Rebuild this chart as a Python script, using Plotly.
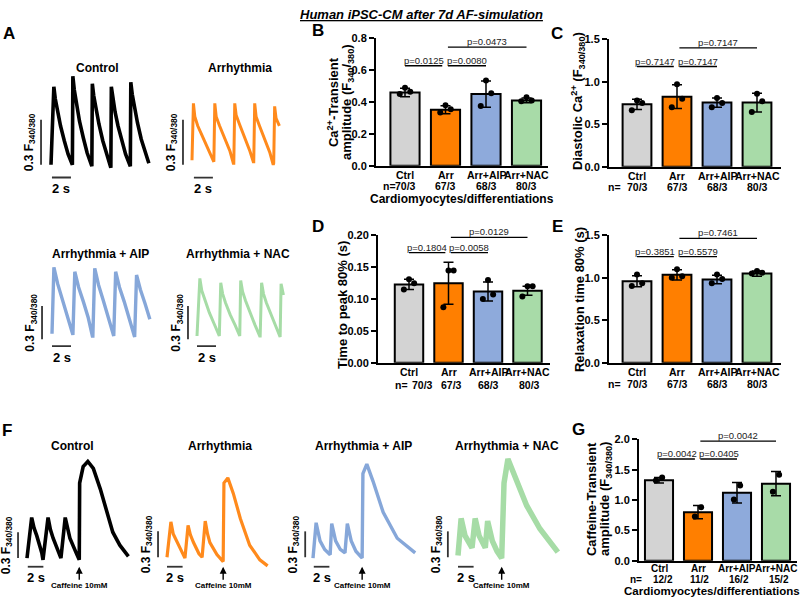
import plotly.graph_objects as go

W, H = 800, 607
FONT = "Liberation Sans, Arial, Helvetica, sans-serif"

# ======================= DATA =======================
groups = ["Ctrl", "Arr", "Arr+AIP", "Arr+NAC"]
bracket_pairs = [(0, 1), (1, 2), (1, 3)]

# B: Ca2+-transient amplitude
amp_mean = [0.46, 0.352, 0.45, 0.41]
amp_sd = [0.027, 0.025, 0.082, 0.015]
amp_dots = [[0.49, 0.465, 0.45], [0.38, 0.355, 0.335], [0.535, 0.455, 0.375], [0.43, 0.41, 0.405]]
amp_n = ["70/3", "67/3", "68/3", "80/3"]
amp_p = ["p=0.0125", "p=0.0080", "p=0.0473"]
amp_bracket_y = [0.628, 0.628, 0.745]
amp_ticks = [0.0, 0.2, 0.4, 0.6, 0.8]

# C: diastolic Ca2+
dia_mean = [0.735, 0.825, 0.755, 0.755]
dia_sd = [0.06, 0.14, 0.055, 0.11]
dia_dots = [[0.78, 0.75, 0.665], [0.97, 0.80, 0.70], [0.81, 0.75, 0.70], [0.86, 0.77, 0.645]]
dia_n = ["70/3", "67/3", "68/3", "80/3"]
dia_p = ["p=0.7147", "p=0.7147", "p=0.7147"]
dia_bracket_y = [1.18, 1.18, 1.40]
dia_ticks = [0.0, 0.5, 1.0, 1.5]

# D: time to peak 80%
ttp_mean = [0.123, 0.125, 0.112, 0.113]
ttp_sd = [0.008, 0.033, 0.015, 0.007]
ttp_dots = [[0.131, 0.125, 0.115], [0.145, 0.145, 0.087], [0.13, 0.107, 0.10], [0.12, 0.12, 0.104]]
ttp_n = ["70/3", "67/3", "68/3", "80/3"]
ttp_p = ["p=0.1804", "p=0.0058", "p=0.0129"]
ttp_bracket_y = [0.173, 0.173, 0.197]
ttp_ticks = [0.00, 0.05, 0.10, 0.15, 0.20]

# E: relaxation time 80%
rt_mean = [0.96, 1.035, 0.98, 1.05]
rt_sd = [0.065, 0.06, 0.05, 0.03]
rt_dots = [[1.04, 0.935, 0.905], [1.10, 1.02, 1.0], [1.04, 0.985, 0.935], [1.08, 1.06, 1.05]]
rt_n = ["70/3", "67/3", "68/3", "80/3"]
rt_p = ["p=0.3851", "p=0.5579", "p=0.7461"]
rt_bracket_y = [1.25, 1.25, 1.465]
rt_ticks = [0.0, 0.5, 1.0, 1.5]

# G: caffeine-transient amplitude
caf_mean = [1.325, 0.80, 1.12, 1.27]
caf_sd = [0.045, 0.11, 0.17, 0.2]
caf_dots = [[1.37, 1.32], [0.88, 0.73], [1.24, 1.01], [1.415, 1.135]]
caf_n = ["12/2", "11/2", "16/2", "15/2"]
caf_p = ["p=0.0042", "p=0.0405", "p=0.0042"]
caf_bracket_y = [1.675, 1.675, 1.97]
caf_ticks = [0.0, 0.5, 1.0, 1.5, 2.0]

# A: representative Ca2+ transients (time in s, F340/380 above baseline)
a_ctrl_t = [0.0, 0.3, 0.45, 0.7, 1.0, 1.4, 1.8, 2.25,
            2.3, 2.45, 2.7, 3.0, 3.4, 3.8, 4.3,
            4.35, 4.5, 4.75, 5.05, 5.45, 5.85, 6.3,
            6.35, 6.5, 6.75, 7.05, 7.45, 7.85, 8.35,
            8.4, 8.55, 8.8, 9.1, 9.5, 9.9, 10.3]
a_ctrl_F = [0.02, 0.54, 0.46, 0.37, 0.28, 0.18, 0.09, 0.02,
            0.61, 0.52, 0.41, 0.31, 0.20, 0.10, 0.01,
            0.56, 0.48, 0.38, 0.29, 0.18, 0.09, 0.00,
            0.54, 0.46, 0.37, 0.28, 0.18, 0.09, 0.01,
            0.57, 0.49, 0.39, 0.30, 0.19, 0.10, 0.03]
a_arr_t = [0.0, 0.15, 0.3, 0.6, 1.1, 1.7, 2.25,
           2.3, 2.4, 2.55, 2.9, 3.4, 4.0, 4.35,
           4.4, 4.5, 4.65, 5.0, 5.5, 6.1, 6.45,
           6.5, 6.6, 6.75, 7.1, 7.6, 8.2, 8.55,
           8.6, 8.7, 8.85, 9.2]
a_arr_F = [0.03, 0.41, 0.32, 0.26, 0.19, 0.10, 0.02,
           0.02, 0.41, 0.32, 0.26, 0.18, 0.09, 0.01,
           0.01, 0.41, 0.33, 0.27, 0.19, 0.09, 0.02,
           0.02, 0.41, 0.32, 0.26, 0.18, 0.08, 0.00,
           0.01, 0.39, 0.31, 0.26]
a_aip_t = [0.0, 0.2, 0.6, 1.1, 1.6, 2.15,
           2.2, 2.4, 2.8, 3.3, 3.8, 4.25,
           4.3, 4.5, 4.9, 5.4, 5.9, 6.45,
           6.5, 6.7, 7.1, 7.6, 8.1, 8.65,
           8.7, 8.9, 9.3, 9.8, 10.3]
a_aip_F = [0.05, 0.65, 0.50, 0.36, 0.22, 0.04,
           0.04, 0.61, 0.47, 0.34, 0.20, 0.03,
           0.03, 0.64, 0.49, 0.35, 0.21, 0.03,
           0.03, 0.61, 0.47, 0.34, 0.20, 0.02,
           0.02, 0.58, 0.45, 0.32, 0.18]
a_nac_t = [0.0, 0.3, 0.5, 0.8, 1.3, 1.8, 2.3,
           2.35, 2.5, 2.7, 3.0, 3.5, 4.0, 4.45,
           4.5, 4.6, 4.8, 5.1, 5.6, 6.1, 6.6,
           6.65, 6.8, 7.0, 7.3, 7.8, 8.3, 8.7,
           8.75, 8.85, 9.1]
a_nac_F = [0.03, 0.55, 0.44, 0.36, 0.24, 0.14, 0.03,
           0.03, 0.51, 0.41, 0.33, 0.22, 0.13, 0.03,
           0.03, 0.53, 0.43, 0.35, 0.23, 0.13, 0.03,
           0.03, 0.51, 0.41, 0.33, 0.22, 0.12, 0.02,
           0.02, 0.50, 0.40]

# F: paced transients followed by caffeine (10 mM) transient
f_ctrl_t = [0.0, 0.6, 0.9, 1.25, 1.9, 2.05, 2.7, 3.0, 3.35, 4.0, 4.35, 4.9, 5.2, 5.5, 6.4, 6.7,
            6.75, 7.2, 7.8, 8.5, 9.4, 10.3, 11.0, 11.9, 13.0]
f_ctrl_F = [0.02, 0.49, 0.37, 0.28, 0.08, 0.0, 0.49, 0.35, 0.25, 0.08, 0.02, 0.49, 0.35, 0.25, 0.06, 0.0,
            0.89, 1.08, 1.14, 1.06, 0.82, 0.55, 0.32, 0.17, 0.04]
f_arr_t = [0.0, 0.5, 0.8, 1.3, 2.0, 2.3, 2.7, 3.0, 3.4, 4.1, 4.5, 4.9, 5.2, 5.5, 6.4, 7.2,
           7.3, 7.8, 8.5, 9.4, 10.6, 11.9, 12.9]
f_arr_F = [0.03, 0.44, 0.30, 0.20, 0.06, 0.02, 0.40, 0.29, 0.20, 0.07, 0.03, 0.45, 0.30, 0.20, 0.06, -0.02,
           0.89, 0.95, 0.77, 0.48, 0.17, 0.0, -0.07]
f_aip_t = [0.0, 0.4, 0.9, 1.5, 2.2, 2.4, 2.9, 3.5, 4.1, 4.4, 4.9, 5.5, 6.3,
           6.4, 6.9, 7.7, 9.0, 10.8, 13.1]
f_aip_F = [0.02, 0.43, 0.22, 0.12, 0.06, 0.42, 0.22, 0.12, 0.08, 0.42, 0.22, 0.10, 0.02,
           1.0, 1.11, 0.91, 0.55, 0.25, 0.08]
f_nac_t = [0.0, 0.4, 0.9, 1.8, 2.2, 2.7, 3.5, 3.8, 4.4, 5.0, 5.6,
           5.9, 6.4, 7.1, 8.8, 10.5, 12.8]
f_nac_F = [0.05, 0.48, 0.28, 0.14, 0.48, 0.28, 0.14, 0.45, 0.22, 0.10, 0.02,
           0.89, 1.17, 1.0, 0.63, 0.36, 0.09]

# ======================= STYLE =======================
bar_colors = ["#d3d3d3", "#ff7f00", "#8eaadb", "#a8dba8"]
trace_colors = {"ctrl": "#000000", "arr": "#ff8a1c", "aip": "#86a7d9", "nac": "#a6dca6"}

fig = go.Figure()
layout = {}
annotations = []
shapes = []


def names(k):
    if k == 1:
        return "x", "y", "xaxis", "yaxis"
    return f"x{k}", f"y{k}", f"xaxis{k}", f"yaxis{k}"


def px(x):
    return x / W


def py(y):
    return 1 - y / H


def bold(s):
    return f"<b>{s}</b>"


def text_ann(x, y, text, size=12, angle=0, xanchor="center", yanchor="middle", color="black"):
    annotations.append(dict(x=px(x), y=py(y), xref="paper", yref="paper", text=text,
                            showarrow=False, textangle=angle, xanchor=xanchor, yanchor=yanchor,
                            font=dict(family=FONT, size=size, color=color)))


def lab_ann(x, y, xref, text, size=11, xshift=0):
    annotations.append(dict(x=x, y=y, xref=xref, yref="paper", text=bold(text), xshift=xshift,
                            showarrow=False, xanchor="center", yanchor="middle",
                            font=dict(family=FONT, size=size, color="black")))


def bar_panel(k, dom, c0, step, yticks, fmt, mean, sd, dots, n_labels, cat_y, n_y, n_eq_x,
              pvals, p_y, dot_dx, n_shift=(0, 0, 0, 0), lab_size=10.5):
    xa, ya, xk, yk = names(k)
    x0, x1, y0, y1 = dom
    xr = [(x0 - c0) / step, (x1 - c0) / step]
    cats = list(range(len(groups)))
    fig.add_trace(go.Bar(
        x=cats, y=mean, width=0.72, xaxis=xa, yaxis=ya,
        marker=dict(color=bar_colors, line=dict(color="black", width=2)),
        error_y=dict(type="data", array=sd, visible=True, color="black", thickness=1.5, width=5),
        hoverinfo="skip"))
    dx, dy = [], []
    for i, vals in enumerate(dots):
        for j, v in enumerate(vals):
            dx.append(i + dot_dx[j])
            dy.append(v)
    fig.add_trace(go.Scatter(x=dx, y=dy, mode="markers", xaxis=xa, yaxis=ya, cliponaxis=False,
                             marker=dict(color="black", size=6), hoverinfo="skip"))
    layout[xk] = dict(domain=[px(x0), px(x1)], range=xr, anchor=ya, showticklabels=False,
                      showline=True, linecolor="black", linewidth=2,
                      ticks="", showgrid=False, zeroline=False, fixedrange=True)
    layout[yk] = dict(domain=[py(y1), py(y0)], range=[yticks[0], yticks[-1]], anchor=xa,
                      tickvals=yticks, ticktext=[format(v, fmt) for v in yticks],
                      showline=True, linecolor="black", linewidth=2, ticks="outside",
                      ticklen=5, tickwidth=2, tickcolor="black", showgrid=False, zeroline=False,
                      fixedrange=True,
                      tickfont=dict(family=FONT, size=11, color="black", weight="bold"))
    # category labels and n-row
    for i, lab in enumerate(groups):
        lab_ann(i, py(cat_y), xa, lab, size=lab_size)
    text_ann(n_eq_x, n_y, bold("n="), size=lab_size)
    for i, lab in enumerate(n_labels):
        lab_ann(i, py(n_y), xa, lab, size=lab_size, xshift=n_shift[i])
    # significance brackets
    for (i, j), lab, h in zip(bracket_pairs, pvals, p_y):
        bx0 = i + (0.06 if i == 1 else 0.0)
        bx1 = j - (0.08 if j == 1 else 0.0)
        shapes.append(dict(type="line", xref=xa, yref=ya, x0=bx0, x1=bx1, y0=h, y1=h,
                           line=dict(color="black", width=1.3)))
        annotations.append(dict(x=(bx0 + bx1) / 2, y=h, xref=xa, yref=ya, text=lab,
                                showarrow=False, xanchor="center", yanchor="bottom", yshift=-2,
                                font=dict(family=FONT, size=9.5, color="#222")))


def trace_panel(k, dom, origin, sx, sy, t, F, color, lw, vbar, hbar, caffeine=None):
    xa, ya, xk, yk = names(k)
    x0, x1, y0, y1 = dom
    ox, oy = origin
    layout[xk] = dict(domain=[px(x0), px(x1)], range=[(x0 - ox) / sx, (x1 - ox) / sx],
                      visible=False, anchor=ya, fixedrange=True)
    layout[yk] = dict(domain=[py(y1), py(y0)], range=[(oy - y1) / sy, (oy - y0) / sy],
                      visible=False, anchor=xa, fixedrange=True)
    fig.add_trace(go.Scatter(x=t, y=F, mode="lines", xaxis=xa, yaxis=ya,
                             line=dict(color=color, width=lw), hoverinfo="skip"))
    vt, vf = vbar
    shapes.append(dict(type="line", xref=xa, yref=ya, x0=vt, x1=vt, y0=vf, y1=vf + 0.3,
                       line=dict(color="#333", width=1.8)))
    annotations.append(dict(x=vt, y=vf + 0.15, xref=xa, yref=ya, xshift=-11, textangle=-90,
                            xanchor="center", yanchor="middle",
                            text=bold("0.3 F<sub>340/380</sub>"), showarrow=False,
                            font=dict(family=FONT, size=12, color="black")))
    ht, hf = hbar
    shapes.append(dict(type="line", xref=xa, yref=ya, x0=ht, x1=ht + 2, y0=hf, y1=hf,
                       line=dict(color="#333", width=1.8)))
    annotations.append(dict(x=ht + 1, y=hf, xref=xa, yref=ya, yshift=-11, text=bold("2 s"),
                            xanchor="center", yanchor="middle",
                            showarrow=False, font=dict(family=FONT, size=13, color="black")))
    if caffeine is not None:
        annotations.append(dict(x=caffeine, y=hf, xref=xa, yref=ya, ax=0, ay=19,
                                text=bold("Caffeine 10mM"), showarrow=True, arrowhead=2,
                                arrowsize=1, arrowwidth=1.4, arrowcolor="black", standoff=0,
                                font=dict(family=FONT, size=8, color="black")))


# ---------------- bar panels ----------------
DX3 = [0.0, 0.13, -0.13]
DX2 = [0.08, -0.08]
bar_panel(1, (376, 548, 33, 163), 405, 40.5, amp_ticks, ".1f", amp_mean, amp_sd, amp_dots,
          amp_n, 172, 184, 389, amp_p, amp_bracket_y, DX3)
bar_panel(2, (609, 781, 34, 164), 637, 40, dia_ticks, ".1f", dia_mean, dia_sd, dia_dots,
          dia_n, 173, 185, 614, dia_p, dia_bracket_y, DX3)
bar_panel(3, (378, 550, 234, 364), 409, 39.5, ttp_ticks, ".2f", ttp_mean, ttp_sd, ttp_dots,
          ttp_n, 373, 387, 402, ttp_p, ttp_bracket_y, DX3, n_shift=(13, 3, 0, 2))
bar_panel(4, (609, 781, 234, 364), 637, 40, rt_ticks, ".1f", rt_mean, rt_sd, rt_dots,
          rt_n, 373, 386, 614, rt_p, rt_bracket_y, DX3)
bar_panel(5, (639, 797, 442, 566), 659, 39, caf_ticks, ".1f", caf_mean, caf_sd, caf_dots,
          caf_n, 574, 585, 636, caf_p, caf_bracket_y, DX2, n_shift=(4, 1, 2, 3), lab_size=10)

# ---------------- trace panels ----------------
trace_panel(6, (15, 160, 62, 200), (51, 165), 9.5, 153, a_ctrl_t, a_ctrl_F, trace_colors["ctrl"], 3.6,
            (-1.05, 0.02), (0.1, -0.065))
trace_panel(7, (160, 285, 62, 200), (192, 162), 9.5, 153, a_arr_t, a_arr_F, trace_colors["arr"], 3.0,
            (-0.95, 0.0), (0.2, -0.085))
trace_panel(8, (15, 160, 255, 372), (52, 340), 9.5, 113, a_aip_t, a_aip_F, trace_colors["aip"], 3.4,
            (-1.05, 0.0), (0.0, -0.062))
trace_panel(9, (160, 285, 255, 372), (197, 340), 9.5, 113, a_nac_t, a_nac_F, trace_colors["nac"], 3.0,
            (-0.95, 0.0), (0.0, -0.062))
trace_panel(10, (0, 140, 452, 607), (27, 565), 7.8, 88, f_ctrl_t, f_ctrl_F, trace_colors["ctrl"], 3.6,
            (-1.15, 0.02), (0.1, -0.08), caffeine=6.7)
trace_panel(11, (140, 285, 452, 607), (167, 565), 7.8, 88, f_arr_t, f_arr_F, trace_colors["arr"], 3.2,
            (-1.15, 0.03), (0.0, -0.08), caffeine=7.2)
trace_panel(12, (285, 430, 452, 607), (313, 565), 7.8, 88, f_aip_t, f_aip_F, trace_colors["aip"], 3.4,
            (-1.0, 0.03), (0.1, -0.08), caffeine=6.3)
trace_panel(13, (430, 575, 452, 607), (458, 565), 7.8, 88, f_nac_t, f_nac_F, trace_colors["nac"], 5.5,
            (-1.3, 0.03), (0.0, -0.08), caffeine=5.6)

# ---------------- text ----------------
text_ann(421, 9, "<b><i><u>Human iPSC-CM after 7d AF-simulation</u></i></b>", size=13)
for letter, (lx, ly) in {"A": (9, 28), "B": (318, 25), "C": (557, 28), "D": (318, 225),
                         "E": (557, 225), "F": (7, 433), "G": (578, 432)}.items():
    text_ann(lx, ly, bold(letter), size=17)

for title, (tx, ty) in {"Control": (97, 63), "Arrhythmia": (240, 63),
                        "Arrhythmia + AIP": (100, 253), "Arrhythmia + NAC": (238, 253)}.items():
    text_ann(tx, ty, bold(title), size=12)
for title, tx in [("Control", 72), ("Arrhythmia", 220), ("Arrhythmia + AIP", 363),
                  ("Arrhythmia + NAC", 507)]:
    text_ann(tx, 449, bold(title), size=12)

# axis titles
text_ann(333, 98, bold("Ca<sup>2+</sup>-Transient"), size=13, angle=-90)
text_ann(347, 98, bold("amplitude (F<sub>340</sub>/<sub>380</sub>)"), size=13, angle=-90)
text_ann(578, 97, bold("Diastolic Ca<sup>2+</sup> (F<sub>340/380</sub>)"), size=13, angle=-90)
text_ann(343, 305, bold("Time to peak 80% (s)"), size=13, angle=-90)
text_ann(579, 300, bold("Relaxation time 80% (s)"), size=13, angle=-90)
text_ann(591, 503, bold("Caffeine-Transient"), size=13, angle=-90)
text_ann(605, 503, bold("amplitude (F<sub>340/380</sub>)"), size=13, angle=-90)
text_ann(462, 197, bold("Cardiomyocytes/differentiations"), size=12)
text_ann(712, 597, bold("Cardiomyocytes/differentiations"), size=11.5)

fig.update_layout(
    width=W, height=H, margin=dict(l=0, r=0, t=0, b=0),
    paper_bgcolor="white", plot_bgcolor="rgba(0,0,0,0)",
    showlegend=False, bargap=0.2,
    font=dict(family=FONT, color="black"),
    annotations=annotations, shapes=shapes, **layout)

fig.write_html("out.html", config={"displayModeBar": False, "staticPlot": True},
               post_script="document.body.style.margin='0';document.body.style.overflow='hidden';")
